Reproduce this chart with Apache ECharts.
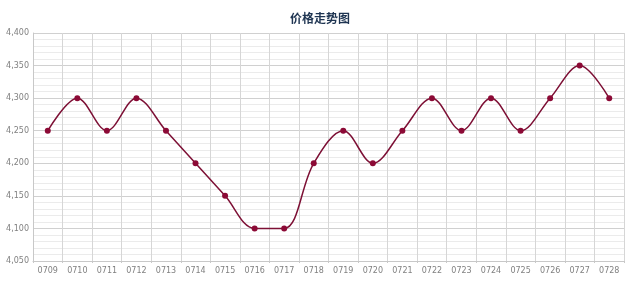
<!DOCTYPE html>
<html><head><meta charset="utf-8">
<script src="https://cdn.jsdelivr.net/npm/echarts@6/dist/echarts.min.js"></script>
<style>html,body{margin:0;padding:0;background:#fff}#c{width:640px;height:282px}</style>
</head><body><div id="c"></div>
<script>
var categories = ['0709','0710','0711','0712','0713','0714','0715','0716','0717','0718','0719','0720','0721','0722','0723','0724','0725','0726','0727','0728'];
var prices = [4250,4300,4250,4300,4250,4200,4150,4100,4100,4200,4250,4200,4250,4300,4250,4300,4250,4300,4350,4300];
var chart = echarts.init(document.getElementById('c'));
chart.setOption({
  animation: false,
  title: {text: '价格走势图', left: 'center', top: 7,
    textStyle: {fontSize: 12, fontWeight: 'bold', color: '#1f3552', fontFamily: 'Noto Sans CJK SC'}},
  grid: {left: 33, right: 16, top: 33, bottom: 21, containLabel: false},
  xAxis: {type: 'category', data: categories, boundaryGap: true,
    axisLine: {lineStyle: {color: '#c8c8c8'}},
    axisTick: {show: true, length: 2, lineStyle: {color: '#c8c8c8'}},
    axisLabel: {color: '#808080', fontSize: 8, margin: 6, fontFamily: 'DejaVu Sans'},
    splitLine: {show: true, lineStyle: {color: '#d6d6d6'}}},
  yAxis: {type: 'value', min: 4050, max: 4400, interval: 50,
    axisLine: {show: true, lineStyle: {color: '#c8c8c8'}},
    axisTick: {show: false},
    axisLabel: {color: '#808080', fontSize: 8, margin: 4, fontFamily: 'DejaVu Sans',
      formatter: function(v){ return String(v).replace(/(\d)(\d{3})$/, '$1,$2'); }},
    splitLine: {show: true, lineStyle: {color: '#d0d0d0'}},
    minorTick: {show: false, splitNumber: 5},
    minorSplitLine: {show: true, lineStyle: {color: '#ebebeb'}}},
  series: [{type: 'line', data: prices, smooth: 0.35, symbol: 'circle', symbolSize: 6,
    lineStyle: {color: '#7d1035', width: 1.5}, itemStyle: {color: '#8c0a36'}}]
});
</script></body></html>
